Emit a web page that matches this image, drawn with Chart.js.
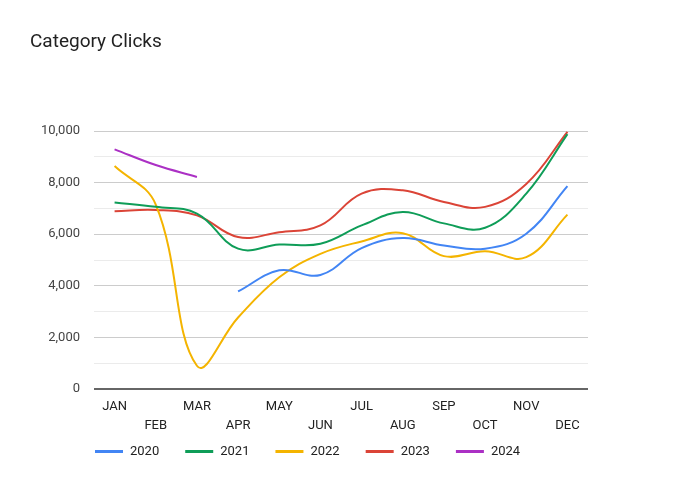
<!DOCTYPE html>
<html><head><meta charset="utf-8">
<script src="https://cdn.jsdelivr.net/npm/chart.js@4"></script>
<style>html,body{margin:0;padding:0;background:#fff}</style>
</head><body>
<canvas id="c" width="678" height="498"></canvas>
<script>
const months = ['JAN','FEB','MAR','APR','MAY','JUN','JUL','AUG','SEP','OCT','NOV','DEC'];
const seriesNames = ['2020','2021','2022','2023','2024'];
const s2020 = [null, null, null, 3780, 4600, 4420, 5460, 5850, 5560, 5440, 6020, 7860];
const s2021 = [7230, 7060, 6800, 5440, 5600, 5630, 6340, 6860, 6420, 6250, 7570, 9880];
const s2022 = [8640, 7150, 900, 2770, 4330, 5240, 5720, 6040, 5150, 5340, 5110, 6760];
const s2023 = [6890, 6940, 6730, 5890, 6080, 6340, 7570, 7700, 7250, 7060, 7950, 9970];
const s2024 = [9290, 8680, 8220, null, null, null, null, null, null, null, null, null];
const yTicks = [0, 2000, 4000, 6000, 8000, 10000];
const colors = ['#4285F4', '#0F9D58', '#F4B400', '#DB4437', '#AB30C4'];

const allSeries = [s2020, s2021, s2022, s2023, s2024];
const datasets = allSeries.map((d, i) => ({
  label: seriesNames[i], data: d, borderColor: colors[i], backgroundColor: colors[i],
  borderWidth: 2, pointRadius: 0, pointHoverRadius: 0, tension: 0.4, spanGaps: false, fill: false
}));

const legendPlugin = {
  id: 'customLegend',
  afterDraw(chart) {
    const ctx = chart.ctx;
    ctx.save();
    ctx.font = '13px Roboto';
    ctx.textBaseline = 'middle';
    ctx.textAlign = 'left';
    let x = 95; const y = 451.5;
    chart.data.datasets.forEach(ds => {
      ctx.fillStyle = ds.borderColor;
      ctx.fillRect(x, y - 1.5, 28, 3);
      ctx.fillStyle = '#222';
      ctx.fillText(ds.label, x + 35, y);
      x += 35 + ctx.measureText(ds.label).width + 26;
    });
    ctx.restore();
  }
};

new Chart(document.getElementById('c'), {
  type: 'line',
  data: { labels: months, datasets },
  plugins: [legendPlugin],
  options: {
    responsive: false, animation: false, devicePixelRatio: 1,
    layout: { padding: { left: 30, right: 90, top: 0, bottom: 55 } },
    plugins: {
      legend: { display: false },
      tooltip: { enabled: false },
      title: {
        display: true, text: 'Category Clicks', align: 'start', color: '#222',
        font: { family: 'Roboto', size: 19, weight: 'normal' },
        padding: { top: 31, bottom: 77.2 }
      }
    },
    scales: {
      x: {
        offset: true,
        grid: { display: false, drawTicks: false },
        border: { display: false },
        ticks: {
          autoSkip: false, maxRotation: 0, minRotation: 0, padding: 8, color: '#222',
          font: { family: 'Roboto', size: 13, lineHeight: '19px' },
          callback: (v, i) => i % 2 === 0 ? months[i] : ['', months[i]]
        }
      },
      y: {
        min: 0, max: 10000,
        afterFit: s => { s.width = 64; },
        border: { display: false },
        grid: {
          drawTicks: false,
          color: c => c.tick.value === 0 ? '#666' : (yTicks.includes(c.tick.value) ? '#ccc' : '#ebebeb'),
          lineWidth: c => c.tick.value === 0 ? 2 : 1
        },
        ticks: {
          stepSize: 1000, padding: 14, color: '#444',
          font: { family: 'Roboto', size: 13 },
          callback: v => yTicks.includes(v) ? v.toLocaleString('en-US') : ''
        }
      }
    }
  }
});
</script>
</body></html>
